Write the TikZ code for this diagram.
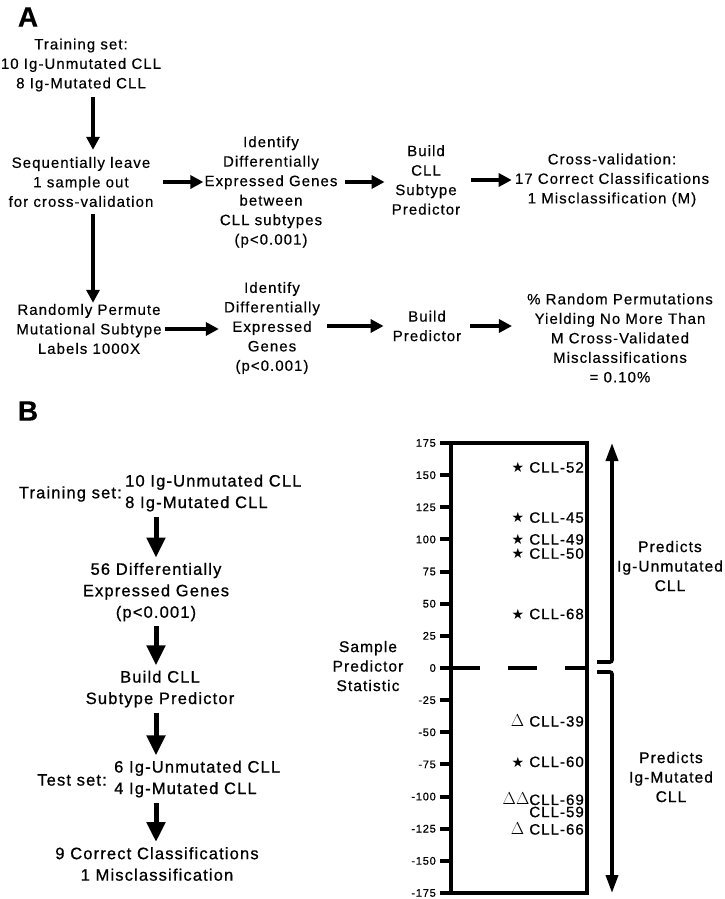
\documentclass[tikz,border=0pt]{standalone}
\usepackage{fontspec}
\usepackage{tikz}
\usetikzlibrary{arrows.meta,positioning,calc}
\newfontfamily\figA{Liberation Sans}[LetterSpace=7,FakeBold=0.4]
\newfontfamily\figB{Liberation Sans}[LetterSpace=7,FakeBold=0.8]
\newfontfamily\symf{DejaVu Sans}
\newcommand{\mstar}{{\symf\fontsize{14}{14}\selectfont ★}}
\newcommand{\mtri}{{\fontsize{18}{18}\selectfont$\Delta$}}
\tikzset{
  txtA/.style  = {align=center, inner sep=1pt, font=\figA\fontsize{15}{19.5}\selectfont},
  txtB/.style  = {align=center, inner sep=1pt, font=\figB\fontsize{16.5}{21.5}\selectfont},
  panel/.style = {inner sep=0pt, font=\figA\bfseries\fontsize{28}{28}\selectfont},
  arrA/.style  = {-{Triangle[length=13pt,width=13pt]}, line width=4pt},
  arrB/.style  = {-{Triangle[length=20pt,width=18pt]}, line width=5pt},
  arrP/.style  = {-{Triangle[length=18pt,width=12pt]}, line width=3.6pt},
  frame/.style = {line width=4pt, line cap=rect},
  tick/.style  = {line width=4pt},
  tlab/.style  = {anchor=east, inner sep=0pt, font=\figB\fontsize{11}{11}\selectfont},
  dlab/.style  = {anchor=east, inner sep=0pt, font=\figB\fontsize{15}{15}\selectfont},
  axlab/.style = {align=center, inner sep=1pt, font=\figB\fontsize{15.5}{19.5}\selectfont},
}
\begin{document}
\begin{tikzpicture}[x=1pt, y=-1pt]
  \useasboundingbox (0,0) rectangle (725,899);

  % panel A
  \node[panel] (labA) at (28,17) {A};
  \node[txtA] (trainA) at (81,65) {Training set:\\10 Ig-Unmutated CLL\\8 Ig-Mutated CLL};
  \node[txtA] (seqA) at (81,182) {Sequentially leave\\1 sample out\\for cross-validation};
  \node[txtA] (identA) at (271,192) {Identify\\Differentially\\Expressed Genes\\between\\CLL subtypes\\(p<0.001)};
  \node[txtA] (buildA) at (426,180) {Build\\CLL\\Subtype\\Predictor};
  \node[txtA] (cvA) at (612,180) {Cross-validation:\\17 Correct Classifications\\1 Misclassification (M)};

  \node[txtA] (permA) at (89,329) {Randomly Permute\\Mutational Subtype\\Labels 1000X};
  \node[txtA] (identP) at (272,328) {Identify\\Differentially\\Expressed\\Genes\\(p<0.001)};
  \node[txtA] (buildP) at (427,326) {Build\\Predictor};
  \node[txtA] (pctA) at (620,338) {\% Random Permutations\\Yielding No More Than\\M Cross-Validated\\Misclassifications\\= 0.10\%};

  \draw[arrA, shorten <=4pt, shorten >=6pt] ([xshift=12pt]trainA.south) -- ([xshift=12pt]seqA.north);
  \draw[arrA, shorten <=6pt] ([xshift=12pt]seqA.south) -- ([xshift=12pt]seqA.south |- permA.north);
  \draw[arrA, shorten <=8pt] (seqA.east) -- (seqA.east -| identA.west);
  \draw[arrA, shorten <=6pt, shorten >=6pt] (seqA.east -| identA.east) -- (seqA.east -| buildA.west);
  \draw[arrA, shorten <=10pt, shorten >=2pt] (buildA.east |- cvA.center) -- (cvA.west);

  \draw[arrA, shorten <=2pt, shorten >=4pt] (permA.east) -- (permA.east -| identP.west);
  \draw[arrA, shorten <=6pt, shorten >=8pt] (identP.east |- buildP.center) -- (buildP.west);
  \draw[arrA, shorten <=8pt, shorten >=14pt] (buildP.east) -- (buildP.east -| pctA.west);

  % panel B
  \node[panel] (labB) at (28,411) {B};
  \node[txtB, anchor=east] (trainlbl) at (123,494) {Training set:};
  \node[txtB, anchor=west, align=left] (trainB) at (124,493) {10 Ig-Unmutated CLL\\8 Ig-Mutated CLL};
  \node[txtB] (genesB) at (156,592) {56 Differentially\\Expressed Genes\\(p<0.001)};
  \node[txtB] (buildB) at (160,689) {Build CLL\\Subtype Predictor};
  \node[txtB, anchor=east] (testlbl) at (108,780) {Test set:};
  \node[txtB, anchor=west, align=left] (testB) at (113,779) {6 Ig-Unmutated CLL\\4 Ig-Mutated CLL};
  \node[txtB] (resB) at (157,864) {9 Correct Classifications\\1 Misclassification};

  \draw[arrB, shorten <=4pt, shorten >=4pt] (genesB.north |- trainB.south) -- (genesB.north);
  \draw[arrB, shorten <=4pt, shorten >=4pt] (genesB.south) -- (genesB.south |- buildB.north);
  \draw[arrB, shorten <=4pt, shorten >=4pt] (genesB.south |- buildB.south) -- (genesB.south |- testB.north);
  \draw[arrB, shorten <=4pt, shorten >=4pt] (genesB.south |- testB.south) -- (genesB.south |- resB.north);

  % predictor statistic chart
  \node[axlab] (ylab) at (368,666) {Sample\\Predictor\\Statistic};
  \foreach \v [count=\k] in {175,150,...,-175} {
    \draw[tick] (440,{668-1.2857*\v}) -- (452,{668-1.2857*\v});
    \node[tlab] (tk\k) at (436,{668-1.2857*\v}) {\v};
  }
  \draw[frame] (442,443) -- (587,443) -- (587,893) -- (451,893) -- (451,443);
  \draw[line width=4pt, dash pattern=on 40pt off 28pt on 29pt off 28pt on 22pt off 0pt] (440,668) -- (587,668);

  \node[dlab] (c52) at (584,{668-1.2857*156}) {\mstar\ CLL-52};
  \node[dlab] (c45) at (584,{668-1.2857*117}) {\mstar\ CLL-45};
  \node[dlab] (c49) at (584,{668-1.2857*100}) {\mstar\ CLL-49};
  \node[dlab] (c50) at (584,{668-1.2857*89})  {\mstar\ CLL-50};
  \node[dlab] (c68) at (584,{668-1.2857*42})  {\mstar\ CLL-68};
  \node[dlab] (c39) at (584,{668+1.2857*41})  {\mtri\ CLL-39};
  \node[dlab] (c60) at (584,{668+1.2857*73})  {\mstar\ CLL-60};
  \node[dlab] (c69) at (584,{668+1.2857*102}) {\mtri\mtri CLL-69};
  \node[dlab] (c59) at (584,{668+1.2857*112}) {CLL-59};
  \node[dlab] (c66) at (584,{668+1.2857*125}) {\mtri\ CLL-66};

  \coordinate (upS) at (597,662);
  \coordinate (upT) at (612,443);
  \coordinate (dnS) at (597,672);
  \coordinate (dnT) at (612,893);
  \draw[arrP, rounded corners=2pt] (upS) -- (upS -| upT) -- (upT);
  \draw[arrP, rounded corners=2pt] (dnS) -- (dnS -| dnT) -- (dnT);

  \node[axlab] (predU) at (670,566) {Predicts\\Ig-Unmutated\\CLL};
  \node[axlab] (predM) at (671,777) {Predicts\\Ig-Mutated\\CLL};
\end{tikzpicture}
\end{document}
